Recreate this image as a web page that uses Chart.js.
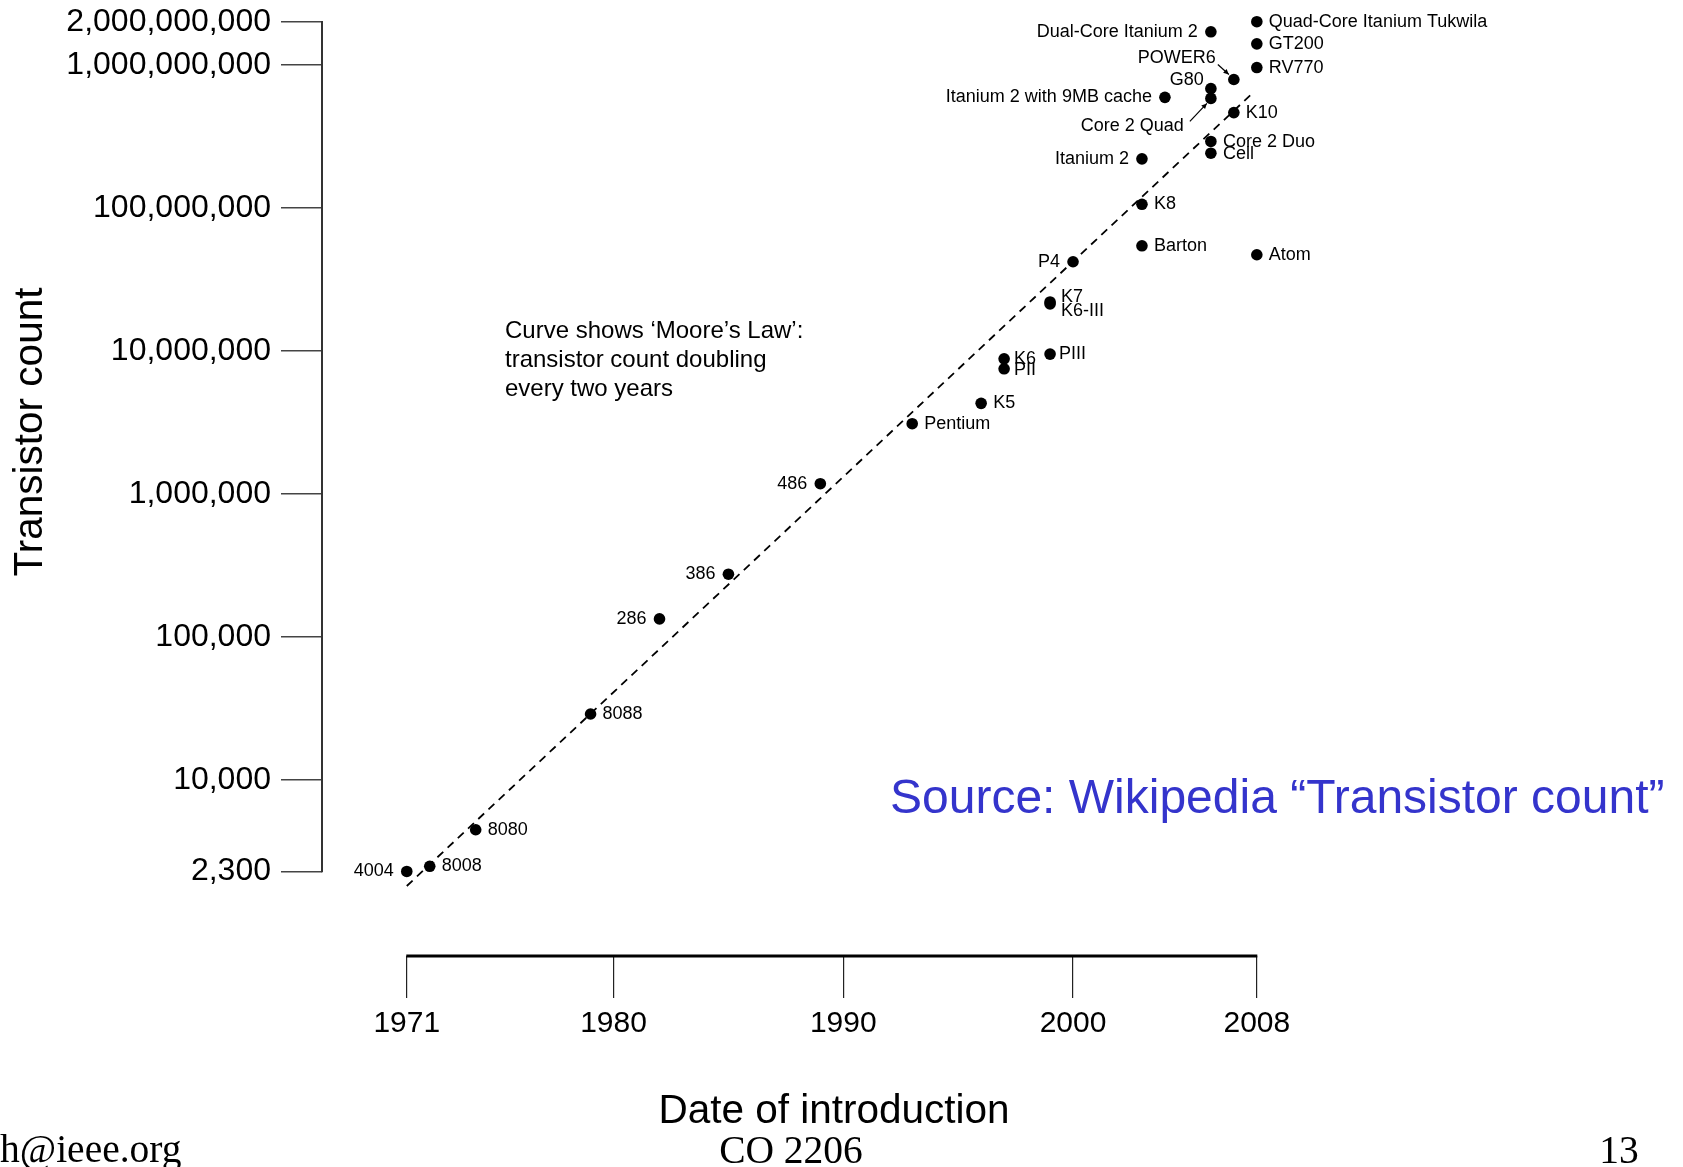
<!DOCTYPE html>
<html>
<head>
<meta charset="utf-8">
<title>Transistor count and Moore's Law</title>
<script src="https://cdn.jsdelivr.net/npm/chart.js@4.4.1/dist/chart.umd.min.js"></script>
<style>
  html, body { margin: 0; padding: 0; background: #fff; overflow: hidden; }
  #wrap { width: 1683px; height: 1167px; }
</style>
</head>
<body>
<div id="wrap"><canvas id="mooreChart" width="1683" height="1167"></canvas></div>
<script>
// processors (name, year of introduction, transistor count)
const chips = ['4004', '8008', '8080', '8088', '286', '386', '486', 'Pentium', 'K5', 'K6', 'PII',
  'PIII', 'K6-III', 'K7', 'P4', 'Barton', 'K8', 'Itanium 2', 'Atom', 'Cell', 'Core 2 Duo', 'K10',
  'Itanium 2 with 9MB cache', 'Core 2 Quad', 'G80', 'POWER6', 'RV770', 'GT200',
  'Quad-Core Itanium Tukwila', 'Dual-Core Itanium 2'];
const years = [1971, 1972, 1974, 1979, 1982, 1985, 1989, 1993, 1996, 1997, 1997,
  1999, 1999, 1999, 2000, 2003, 2003, 2003, 2008, 2006, 2006, 2007,
  2004, 2006, 2006, 2007, 2008, 2008,
  2008, 2006];
const transistors = [2300, 2500, 4500, 29000, 134000, 275000, 1180000, 3100000, 4300000, 8800000, 7500000,
  9500000, 21300000, 22000000, 42000000, 54300000, 105900000, 220000000, 47000000, 241000000, 291000000, 463000000,
  592000000, 582000000, 681000000, 789000000, 956000000, 1400000000,
  2000000000, 1700000000];

// dashed "Moore's Law" curve, end points
const mooreYears = [1971, 2007.8];
const mooreCounts = [1820, 630000000];

// axis ticks
const yTickValues = [2300, 10000, 100000, 1000000, 10000000, 100000000, 1000000000, 2000000000];
const xTickValues = [1971, 1980, 1990, 2000, 2008];

const yTitle = 'Transistor count';
const xTitle = 'Date of introduction';
const noteLines = ['Curve shows \u2018Moore\u2019s Law\u2019:', 'transistor count doubling', 'every two years'];
const sourceText = 'Source: Wikipedia \u201CTransistor count\u201D';

// where each point's label goes (default: to the right)
const labelPlacement = {
  '4004': { side: 'l' }, '286': { side: 'l' }, '386': { side: 'l' }, '486': { side: 'l' },
  'P4': { side: 'l' }, 'Itanium 2': { side: 'l' }, 'Itanium 2 with 9MB cache': { side: 'l' },
  'Dual-Core Itanium 2': { side: 'l' },
  'K6': { dx: -2 }, 'PII': { dx: -2, dy: 1 }, 'PIII': { dx: -3 },
  'K7': { dx: -1, dy: -5 }, 'K6-III': { dx: -1, dy: 7 },
  'Cell': { dy: 1 }, 'Core 2 Duo': { dy: 1 },
  'G80': { side: 'l', at: [-7, -9] },
  'Core 2 Quad': { side: 'l', at: [-27, 28], arrow: [[-21, 23], [-4, 5]] },
  'POWER6': { side: 'l', at: [-18, -21], arrow: [[-16, -15], [-5, -5]] }
};

Chart.defaults.font.family = '"Liberation Sans", Arial, Helvetica, sans-serif';
Chart.defaults.color = '#000';

const SANS = '"Liberation Sans", Arial, Helvetica, sans-serif';
const SERIF = '"Liberation Serif", "Times New Roman", serif';

function drawArrow(ctx, x1, y1, x2, y2) {
  const ang = Math.atan2(y2 - y1, x2 - x1);
  ctx.beginPath();
  ctx.moveTo(x1, y1);
  ctx.lineTo(x2, y2);
  ctx.stroke();
  ctx.beginPath();
  ctx.moveTo(x2, y2);
  ctx.lineTo(x2 - 6 * Math.cos(ang - 0.45), y2 - 6 * Math.sin(ang - 0.45));
  ctx.lineTo(x2 - 6 * Math.cos(ang + 0.45), y2 - 6 * Math.sin(ang + 0.45));
  ctx.closePath();
  ctx.fill();
}

const decorations = {
  id: 'decorations',
  afterDraw(chart) {
    const { ctx, chartArea, scales: { x, y } } = chart;
    ctx.save();

    // axis lines only span the tick range
    ctx.strokeStyle = '#333';
    ctx.lineWidth = 2;
    ctx.beginPath();
    ctx.moveTo(chartArea.left, y.getPixelForValue(yTickValues[0]) + 0.75);
    ctx.lineTo(chartArea.left, y.getPixelForValue(yTickValues[yTickValues.length - 1]) - 0.75);
    ctx.stroke();

    ctx.strokeStyle = '#000';
    ctx.lineWidth = 3;
    ctx.beginPath();
    ctx.moveTo(x.getPixelForValue(xTickValues[0]) - 0.5, chartArea.bottom);
    ctx.lineTo(x.getPixelForValue(xTickValues[xTickValues.length - 1]) + 0.5, chartArea.bottom);
    ctx.stroke();

    // point labels
    ctx.fillStyle = '#000';
    ctx.strokeStyle = '#000';
    ctx.lineWidth = 1.2;
    ctx.font = '18px ' + SANS;
    ctx.textBaseline = 'middle';
    const meta = chart.getDatasetMeta(0);
    meta.data.forEach((pt, i) => {
      const p = Object.assign({ side: 'r', dx: 0, dy: 0 }, labelPlacement[chips[i]]);
      ctx.textAlign = p.side === 'l' ? 'right' : 'left';
      let ox = p.side === 'l' ? -13 : 12;
      let oy = 0;
      if (p.at) { ox = p.at[0]; oy = p.at[1]; }
      ctx.fillText(chips[i], pt.x + ox + p.dx, pt.y + oy + p.dy);
      if (p.arrow) {
        drawArrow(ctx, pt.x + p.arrow[0][0], pt.y + p.arrow[0][1], pt.x + p.arrow[1][0], pt.y + p.arrow[1][1]);
      }
    });

    // note about the curve
    ctx.textAlign = 'left';
    ctx.font = '24px ' + SANS;
    noteLines.forEach((line, i) => ctx.fillText(line, 505, 331 + i * 29));

    // source
    ctx.fillStyle = '#3434cc';
    ctx.font = '48px ' + SANS;
    ctx.fillText(sourceText, 890, 800);

    // axis titles
    ctx.fillStyle = '#000';
    ctx.font = '40.5px ' + SANS;
    ctx.textAlign = 'center';
    ctx.fillText(xTitle, 834, 1112);
    ctx.save();
    ctx.translate(31, 432);
    ctx.rotate(-Math.PI / 2);
    ctx.fillText(yTitle, 0, 0);
    ctx.restore();

    // slide footer
    ctx.font = '39.5px ' + SERIF;
    ctx.textBaseline = 'alphabetic';
    ctx.textAlign = 'left';
    ctx.fillText('h@ieee.org', 0, 1162);
    ctx.textAlign = 'center';
    ctx.fillText('CO 2206', 791, 1163);
    ctx.fillText('13', 1619, 1163);

    ctx.restore();
  }
};

const ctx = document.getElementById('mooreChart');

new Chart(ctx, {
  type: 'scatter',
  data: {
    datasets: [
      {
        label: 'Processors',
        data: chips.map((c, i) => ({ x: years[i], y: transistors[i] })),
        pointRadius: 5.8,
        pointHoverRadius: 5.8,
        pointBorderWidth: 0,
        backgroundColor: '#000',
        borderColor: '#000',
        clip: false,
        order: 0
      },
      {
        label: "Moore's Law",
        type: 'line',
        data: mooreYears.map((yr, i) => ({ x: yr, y: mooreCounts[i] })),
        borderColor: '#000',
        borderWidth: 1.8,
        borderDash: [8, 6],
        pointRadius: 0,
        fill: false,
        clip: false,
        order: 1
      }
    ]
  },
  options: {
    responsive: false,
    animation: false,
    events: [],
    layout: { autoPadding: false, padding: { top: 21.7, left: 0, right: 0, bottom: 0 } },
    plugins: {
      legend: { display: false },
      tooltip: { enabled: false }
    },
    scales: {
      x: {
        type: 'linear',
        min: 1967.31,
        max: 2026.55,
        bounds: 'data',
        afterBuildTicks: scale => { scale.ticks = xTickValues.map(v => ({ value: v })); },
        afterFit: scale => { scale.height = 211; scale.paddingLeft = 0; scale.paddingRight = 0; },
        grid: { display: true, drawOnChartArea: false, drawTicks: true, tickLength: 42, color: '#222', lineWidth: 1.2 },
        border: { display: false },
        ticks: {
          autoSkip: false,
          maxRotation: 0,
          padding: 8,
          color: '#000',
          font: { size: 30 },
          callback: v => String(v)
        }
      },
      y: {
        type: 'logarithmic',
        min: 590,
        max: 2000000000,
        bounds: 'data',
        afterBuildTicks: scale => { scale.ticks = yTickValues.map(v => ({ value: v })); },
        afterFit: scale => { scale.width = 322; scale.paddingTop = 0; scale.paddingBottom = 0; },
        grid: { display: true, drawOnChartArea: false, drawTicks: true, tickLength: 41, color: '#444', lineWidth: 1.5 },
        border: { display: false },
        ticks: {
          autoSkip: false,
          padding: 10,
          color: '#000',
          font: { size: 32 },
          callback: v => Number(v).toLocaleString('en-US')
        }
      }
    }
  },
  plugins: [decorations]
});
</script>
</body>
</html>
